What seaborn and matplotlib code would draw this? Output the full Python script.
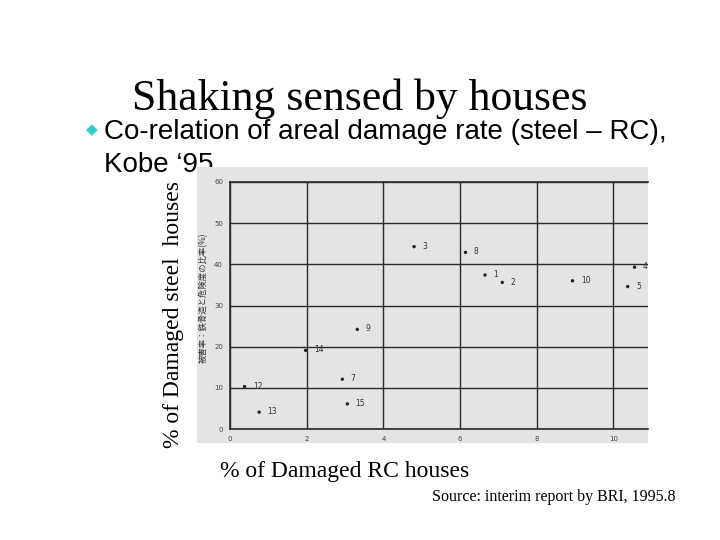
import numpy as np
import pandas as pd
import matplotlib
matplotlib.use('Agg')
import matplotlib.pyplot as plt
import seaborn as sns

# area numbers and damage rates
area_ids = ['1', '2', '3', '4', '5', '7', '8', '9', '10', '12', '13', '14', '15']
rc_damage = [6.65, 7.10, 4.80, 10.55, 10.37, 2.93, 6.14, 3.32, 8.93, 0.38, 0.76, 1.97, 3.06]
steel_damage = [37.4, 35.6, 44.3, 39.3, 34.6, 12.1, 42.9, 24.2, 36.0, 10.3, 4.1, 19.1, 6.1]

x_ticks = [0, 2, 4, 6, 8, 10]
y_ticks = [0, 10, 20, 30, 40, 50, 60]

df = pd.DataFrame({'id': area_ids, 'rc': rc_damage, 'steel': steel_damage})

fig = plt.figure(figsize=(7.2, 5.4), dpi=100)
fig.patch.set_facecolor('white')

# grey scanned-paper backdrop
bg = fig.add_axes([197 / 720, 1 - 443 / 540, 451 / 720, 276 / 540], zorder=0)
bg.set_facecolor('#e4e4e4')
bg.set_xticks([])
bg.set_yticks([])
for s in bg.spines.values():
    s.set_visible(False)

ax = fig.add_axes([230 / 720, 1 - 429 / 540, 418 / 720, 247 / 540], zorder=1)
ax.set_facecolor('none')
sns.scatterplot(data=df, x='rc', y='steel', ax=ax, color='#222222', s=6,
                edgecolor='none', zorder=3)
for _, r in df.iterrows():
    ax.annotate(r['id'], (r['rc'], r['steel']), xytext=(6, -1.5),
                textcoords='offset points', fontsize=5.5, color='#333333')

ax.set_xlim(0, 10.9)
ax.set_ylim(0, 60)
ax.set_xticks(x_ticks)
ax.set_yticks(y_ticks)
ax.tick_params(length=0, labelsize=5, labelcolor='#444444', pad=5)
ax.grid(True, color='#2a2a2a', linewidth=1.0)
ax.set_axisbelow(True)
for side in ['left', 'bottom', 'top']:
    ax.spines[side].set_color('#2a2a2a')
    ax.spines[side].set_linewidth(1.2)
ax.spines['right'].set_visible(False)
ax.set_xlabel('')
ax.set_ylabel('')

# japanese axis label from the scan
fig.text(203 / 720, 1 - 298 / 540, '被害率：鉄骨造と危険度の比率(%)', rotation=90,
         ha='center', va='center', fontsize=6, color='#333333',
         family=['Noto Sans CJK JP', 'DejaVu Sans'], zorder=5)

# slide texts
fig.text(360 / 720, 1 - 99 / 540, 'Shaking sensed by houses', ha='center', va='center',
         fontsize=31.5, family='Liberation Serif')
fig.text(92 / 720, 1 - 130 / 540, '◆', ha='center', va='center', fontsize=11,
         color='#33cccc', family='DejaVu Sans')
fig.text(104 / 720, 1 - 139 / 540, 'Co-relation of areal damage rate (steel – RC),',
         ha='left', va='baseline', fontsize=20, family='Liberation Sans')
# the scan sits over the bottom of this line on the slide
fig.text(104 / 720, 1 - 172 / 540, 'Kobe ‘95', ha='left', va='baseline',
         fontsize=20, family='Liberation Sans', zorder=-1)
fig.text(173 / 720, 1 - 315 / 540, '% of Damaged steel  houses', rotation=90,
         ha='center', va='center', fontsize=17, family='Liberation Serif')
fig.text(220 / 720, 1 - 472 / 540, '% of Damaged RC houses', ha='left', va='center',
         fontsize=17, family='Liberation Serif')
fig.text(675 / 720, 1 - 497 / 540, 'Source: interim report by BRI, 1995.8',
         ha='right', va='center', fontsize=11.5, family='Liberation Serif')

fig.savefig('out.png', dpi=100)
